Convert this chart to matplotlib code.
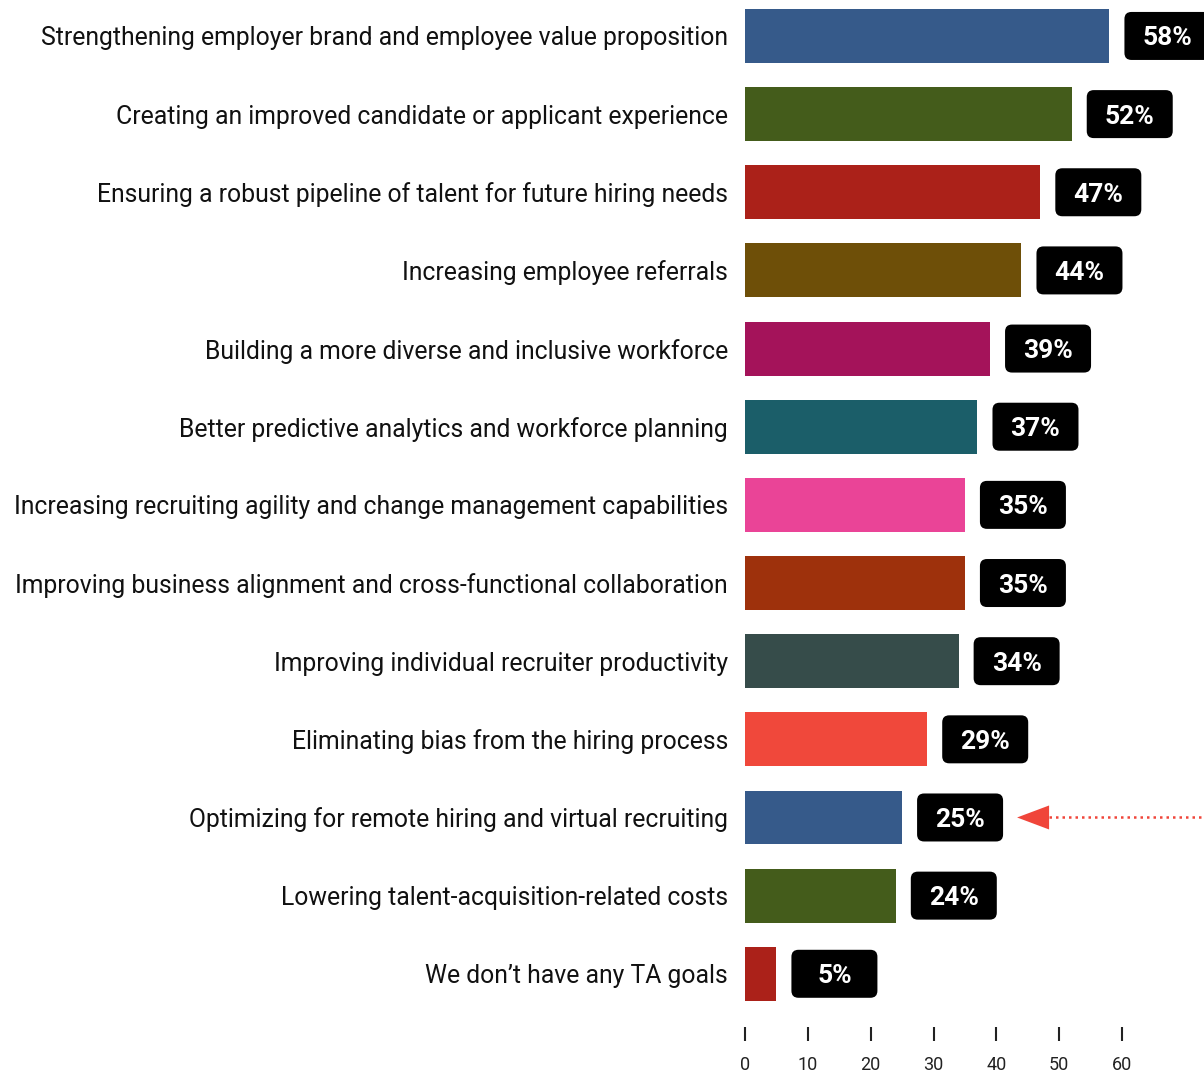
import matplotlib
matplotlib.use("Agg")
import matplotlib.pyplot as plt
import matplotlib.transforms as mtransforms
from matplotlib.patches import FancyBboxPatch, Polygon

plt.rcParams['font.family'] = ['Roboto', 'DejaVu Sans']

# --- data ---
goals = [
    "Strengthening employer brand and employee value proposition",
    "Creating an improved candidate or applicant experience",
    "Ensuring a robust pipeline of talent for future hiring needs",
    "Increasing employee referrals",
    "Building a more diverse and inclusive workforce",
    "Better predictive analytics and workforce planning",
    "Increasing recruiting agility and change management capabilities",
    "Improving business alignment and cross-functional collaboration",
    "Improving individual recruiter productivity",
    "Eliminating bias from the hiring process",
    "Optimizing for remote hiring and virtual recruiting",
    "Lowering talent-acquisition-related costs",
    "We don\u2019t have any TA goals",
]
shares = [58, 52, 47, 44, 39, 37, 35, 35, 34, 29, 25, 24, 5]
colors = ["#365A8A", "#445C1B", "#AB2119", "#6E4F08", "#A4135A", "#1B5E69",
          "#EA4497", "#9E310C", "#364C4A", "#F0483B", "#365A8A", "#445C1B",
          "#AB2119"]
xticks = [0, 10, 20, 30, 40, 50, 60]
highlight = 10  # remote hiring row gets the arrow

fig = plt.figure(figsize=(12.04, 10.74), dpi=100)
ax = fig.add_axes([745 / 1204, 1 - 1041 / 1074, (1122 - 745) / 1204, 1041 / 1074])

ypos = list(range(len(goals)))
ax.barh(ypos, shares, height=0.69, color=colors)

ax.set_xlim(0, 60)
ax.set_ylim(12.86, -0.46)
ax.set_yticks(ypos)
ax.set_yticklabels(goals, fontsize=17.8, color="#111111")
ax.tick_params(axis='y', length=0, pad=12.2)
ax.set_xticks(xticks)
ax.set_xticklabels([str(t) for t in xticks], fontsize=13, color="#222222")
ax.tick_params(axis='x', direction='in', length=10, width=1.5, color="#222222", pad=11)
for s in ax.spines.values():
    s.set_visible(False)

# value labels: black rounded boxes a fixed pixel size right of each bar
for i, v in enumerate(shares):
    off = fig.dpi_scale_trans + mtransforms.ScaledTranslation(v, i, ax.transData)
    box = FancyBboxPatch((0.15 + 0.06, -0.24 + 0.06), 0.86 - 0.12, 0.48 - 0.12,
                         boxstyle="round,pad=0.06,rounding_size=0.07",
                         facecolor="black", edgecolor="none",
                         transform=off, clip_on=False)
    ax.add_patch(box)
    ax.annotate(f"{v}%", xy=(v, i), xytext=(15 + 43, 0), textcoords='offset pixels',
                ha='center', va='center_baseline', fontsize=19, fontweight='bold',
                color="white", annotation_clip=False)

# dotted arrow pointing at the highlighted row
tip_x = shares[highlight] + (1018 - 903) / 6.283
base_x = tip_x + 32 / 6.283
half_h = 12 / 78.17
ax.plot([base_x, 75], [highlight, highlight], color="#F0453A", lw=1.8,
        linestyle=(0, (1, 1.6)), clip_on=False)
ax.add_patch(Polygon([[tip_x, highlight], [base_x, highlight - half_h],
                      [base_x, highlight + half_h]], closed=True,
                     facecolor="#F0453A", edgecolor="none", clip_on=False))

fig.savefig("out.png", dpi=100)
